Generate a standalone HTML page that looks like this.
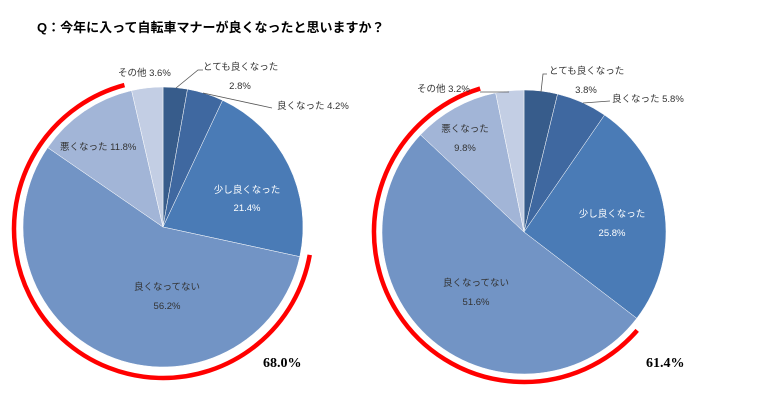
<!DOCTYPE html>
<html><head><meta charset="utf-8"><style>
body{margin:0;background:#fff;}
svg{display:block;font-family:"Liberation Sans","Noto Sans CJK JP",sans-serif;}
</style></head><body>
<svg id="c" width="774" height="408" viewBox="0 0 774 408">
<text x="37" y="32" font-size="13" font-weight="bold" fill="#000">Q：今年に入って自転車マナーが良くなったと思いますか？</text>
</svg>
<script>
const categories=["とても良くなった","良くなった","少し良くなった","良くなってない","悪くなった","その他"];
const valuesLeft=[2.8,4.2,21.4,56.2,11.8,3.6];
const valuesRight=[3.8,5.8,25.8,51.6,9.8,3.2];
const totalsLabels=["68.0%","61.4%"];
const colors=["#375c8b","#3f68a0","#4a7bb6","#7294c5","#a2b5d7","#c3cee4"];
const NS="http://www.w3.org/2000/svg";
const svg=document.getElementById('c');
function mk(t,a){const e=document.createElementNS(NS,t);for(const k in a)e.setAttribute(k,a[k]);svg.appendChild(e);return e;}
function pt(cx,cy,r,deg){const a=(deg-90)*Math.PI/180;return [cx+r*Math.cos(a),cy+r*Math.sin(a)];}
function arcPath(cx,cy,r,a0,a1){const p0=pt(cx,cy,r,a0),p1=pt(cx,cy,r,a1);const large=(a1-a0)>180?1:0;return `M${p0[0]},${p0[1]} A${r},${r} 0 ${large} 1 ${p1[0]},${p1[1]}`;}
function pie(vals,cx,cy,r,id){
  const tot=vals.reduce((a,b)=>a+b,0);let a=0;
  vals.forEach((v,i)=>{const a1=a+v/tot*360;const p0=pt(cx,cy,r,a),p1=pt(cx,cy,r,a1);
    const e=mk('path',{d:`M${cx},${cy} L${p0[0]},${p0[1]} A${r},${r} 0 ${(a1-a)>180?1:0} 1 ${p1[0]},${p1[1]} Z`,fill:colors[i],stroke:'#fff','stroke-width':0.5});
    
    
    a=a1;});
  // red arc over the "good" slices complement: from start of slice 2 end? covers 少し良くなった(part)+良くなってない... uses angles
  const tot2=tot;let start=(vals[0]+vals[1]+vals[2]*0.6)/tot2*360;
  return tot2;
}
function label(x,y,t,anchor,fill,name){const e=mk('text',{x:x,y:y,'font-size':9.5,fill:fill||'#333','text-anchor':anchor||'start'});e.textContent=t;
  
  return e;}
function line(pts,name){const e=mk('polyline',{points:pts,fill:'none',stroke:'#555','stroke-width':0.8});
  
  }
// left pie
pie(valuesLeft,163,227,140,'left');
let ra=mk('path',{d:arcPath(163,229,149,100,345),fill:'none',stroke:'#f00','stroke-width':4.5});


line("176,88 198,70 203,70","leader-left-0");
line("203,93 272,108","leader-left-1");
label(118,76,categories[5]+" "+valuesLeft[5].toFixed(1)+"%","start",'#333','label-left-other');
label(203,70,categories[0],"start",'#333','label-left-verygood');
label(240,89,valuesLeft[0].toFixed(1)+"%","middle",'#333','value-left-verygood');
label(277,109,categories[1]+" "+valuesLeft[1].toFixed(1)+"%","start",'#333','label-left-good');
label(60,150,categories[4]+" "+valuesLeft[4].toFixed(1)+"%","start",'#333','label-left-bad');
label(247,193,categories[2],"middle",'#fff','label-left-slightlygood');
label(247,211,valuesLeft[2].toFixed(1)+"%","middle",'#fff','value-left-slightlygood');
label(167,290,categories[3],"middle",'#333','label-left-notgood');
label(167,309,valuesLeft[3].toFixed(1)+"%","middle",'#333','value-left-notgood');
let t1=mk('text',{x:263,y:367,'font-size':14,'font-family':'"Liberation Serif",serif','font-weight':'bold'});t1.textContent=totalsLabels[0];


// right pie
pie(valuesRight,524,232,142,'right');
let rb=mk('path',{d:arcPath(524,232,150,131,343),fill:'none',stroke:'#f00','stroke-width':4.5});


line("541,92 543,74 547,74","leader-right-0");
line("583,103 610,101","leader-right-1");
line("480,92 509,92","leader-right-5");
label(417,92,categories[5]+" "+valuesRight[5].toFixed(1)+"%","start",'#333','label-right-other');
label(549,74,categories[0],"start",'#333','label-right-verygood');
label(586,93,valuesRight[0].toFixed(1)+"%","middle",'#333','value-right-verygood');
label(612,102,categories[1]+" "+valuesRight[1].toFixed(1)+"%","start",'#333','label-right-good');
label(465,132,categories[4],"middle",'#333','label-right-bad');
label(465,151,valuesRight[4].toFixed(1)+"%","middle",'#333','value-right-bad');
label(612,217,categories[2],"middle",'#fff','label-right-slightlygood');
label(612,236,valuesRight[2].toFixed(1)+"%","middle",'#fff','value-right-slightlygood');
label(476,286,categories[3],"middle",'#333','label-right-notgood');
label(476,305,valuesRight[3].toFixed(1)+"%","middle",'#333','value-right-notgood');
let t2=mk('text',{x:646,y:367,'font-size':14,'font-family':'"Liberation Serif",serif','font-weight':'bold'});t2.textContent=totalsLabels[1];


</script>
</body></html>
